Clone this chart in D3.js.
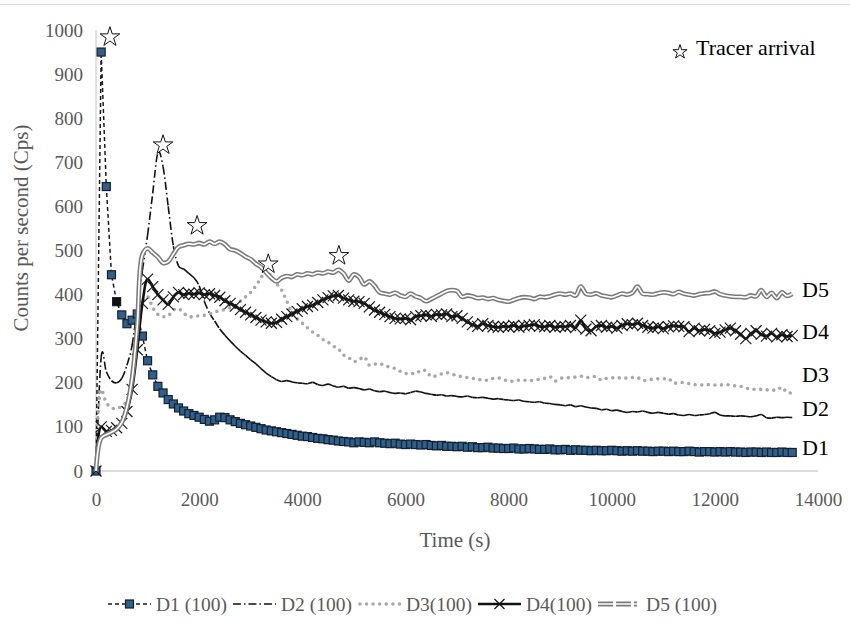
<!DOCTYPE html>
<html>
<head>
<meta charset="utf-8">
<script src="https://cdn.jsdelivr.net/npm/d3@7/dist/d3.min.js"></script>
<style>
    body { margin: 0; background: #fff; }
    text { font-family: "Liberation Serif", "Times New Roman", serif; }
</style>
</head>
<body>
<svg id="chart" width="850" height="639"></svg>
<script>
// sample times (s)
var times = [
    0, 100, 200, 300, 400, 500, 600, 700, 800, 900,
    1000, 1100, 1200, 1300, 1400, 1500, 1600, 1700, 1800, 1900,
    2000, 2100, 2200, 2300, 2400, 2500, 2600, 2700, 2800, 2900,
    3000, 3100, 3200, 3300, 3400, 3500, 3600, 3700, 3800, 3900,
    4000, 4100, 4200, 4300, 4400, 4500, 4600, 4700, 4800, 4900,
    5000, 5100, 5200, 5300, 5400, 5500, 5600, 5700, 5800, 5900,
    6000, 6100, 6200, 6300, 6400, 6500, 6600, 6700, 6800, 6900,
    7000, 7100, 7200, 7300, 7400, 7500, 7600, 7700, 7800, 7900,
    8000, 8100, 8200, 8300, 8400, 8500, 8600, 8700, 8800, 8900,
    9000, 9100, 9200, 9300, 9400, 9500, 9600, 9700, 9800, 9900,
    10000, 10100, 10200, 10300, 10400, 10500, 10600, 10700, 10800, 10900,
    11000, 11100, 11200, 11300, 11400, 11500, 11600, 11700, 11800, 11900,
    12000, 12100, 12200, 12300, 12400, 12500, 12600, 12700, 12800, 12900,
    13000, 13100, 13200, 13300, 13400, 13500
];

var d1 = [
    0, 950, 645, 445, 384, 354, 334, 342, 356, 306,
    250, 218, 192, 177, 162, 152, 143, 136, 130, 126,
    122, 117, 113, 116, 122, 121, 116, 112, 108, 105,
    102, 99, 96, 93, 91, 89, 87, 85, 83, 81,
    79, 78, 76, 74, 73, 71, 70, 68, 67, 66,
    64, 66, 65, 64, 66, 64, 63, 62, 63, 61,
    60, 61, 60, 59, 60, 58, 57, 58, 56, 56,
    55, 56, 54, 55, 53, 53, 54, 52, 52, 51,
    51, 52, 50, 50, 51, 50, 49, 49, 50, 48,
    48, 49, 47, 48, 47, 47, 46, 47, 46, 46,
    47, 46, 45, 46, 45, 46, 45, 45, 44, 45,
    45, 44, 45, 44, 44, 45, 44, 43, 44, 44,
    43, 44, 43, 44, 43, 43, 42, 43, 43, 42,
    43, 42, 42, 43, 42, 42
];

var d2 = [
    0, 258, 225, 205, 200, 210, 240, 285, 370, 455,
    535, 630, 722, 690, 600, 510, 465, 458, 448, 438,
    420, 385, 358, 340, 322, 308, 295, 283, 272, 262,
    252, 243, 232, 222, 214, 207, 203, 205, 202, 200,
    199, 198, 201, 196, 194, 197, 193, 190, 192, 188,
    189, 187, 184, 186, 182, 180, 181, 178, 176, 177,
    175, 178, 181, 179, 176, 174, 172, 173, 170, 171,
    169, 168, 170, 167, 166, 167, 165, 163, 164, 162,
    161, 160, 161, 158, 157, 156, 157, 154, 153, 151,
    150, 148, 150, 146, 148, 145, 143, 142, 139, 140,
    137, 138, 135, 133, 135, 134, 136, 133, 131, 133,
    131, 129, 130, 127, 126, 128, 126, 127, 128, 130,
    133, 127, 125, 125, 124, 125, 124, 123, 125, 128,
    121, 120, 122, 121, 122, 121
];

var d3s = [
    0, 185, 155, 143, 142, 147, 160, 210, 300, 385,
    395, 370, 355, 350, 352, 365, 368, 358, 350, 350,
    352, 353, 356, 360, 364, 366, 370, 374, 385, 395,
    405, 420, 438, 455, 440, 425, 410, 385, 360, 345,
    335, 325, 315, 308, 298, 292, 283, 277, 263, 257,
    248, 252, 259, 240, 242, 244, 238, 236, 232, 226,
    221, 222, 220, 229, 227, 214, 216, 220, 223, 220,
    216, 214, 212, 210, 208, 206, 206, 210, 211, 208,
    203, 204, 206, 206, 205, 206, 208, 210, 214, 204,
    210, 211, 212, 213, 215, 212, 213, 214, 206, 210,
    211, 212, 210, 211, 212, 212, 205, 207, 208, 209,
    209, 210, 199, 201, 200, 198, 196, 195, 195, 196,
    195, 195, 196, 195, 193, 192, 188, 186, 185, 185,
    184, 184, 183, 190, 178, 177
];

var d4 = [
    0, 100, 90, 92, 98, 108, 135, 185, 275, 380,
    435, 418, 400, 388, 378, 395, 405, 400, 403, 401,
    404, 400, 402, 398, 394, 386, 380, 374, 366, 360,
    354, 348, 342, 338, 335, 337, 344, 350, 356, 362,
    368, 373, 376, 382, 388, 393, 397, 398, 392, 388,
    385, 384, 380, 372, 365, 360, 355, 350, 346, 345,
    346, 343, 350, 352, 354, 351, 355, 354, 356, 350,
    352, 346, 338, 332, 328, 334, 330, 327, 326, 328,
    327, 330, 326, 329, 330, 332, 328, 327, 330, 326,
    328, 327, 330, 325, 342, 322, 318, 328, 330, 326,
    328, 324, 330, 334, 332, 335, 330, 326, 324, 327,
    323, 327, 329, 328, 327, 316, 324, 318, 321, 318,
    312, 315, 320, 324, 318, 310, 300, 312, 318, 310,
    306, 312, 304, 309, 305, 307
];

var d5 = [
    0, 75, 82, 88, 95, 110, 145, 210, 330, 490,
    505, 495, 485, 472, 475, 492, 508, 512, 515, 514,
    517, 514, 520, 515, 520, 514, 503, 500, 494, 486,
    480, 470, 462, 450, 438, 430, 438, 442, 440, 446,
    444, 448, 446, 450, 448, 452, 450, 456, 448, 432,
    446, 440, 423, 430, 420, 405, 402, 400, 404, 398,
    395, 402, 396, 392, 385, 390, 396, 402, 408, 410,
    408, 395, 398, 396, 392, 393, 390, 392, 388, 386,
    384, 388, 392, 394, 393, 390, 395, 394, 396, 400,
    402, 400, 402, 398, 418, 402, 400, 403, 398, 396,
    394, 398, 402, 400, 404, 418, 402, 401, 400, 403,
    405, 404, 401, 406, 402, 400, 398, 401, 403, 404,
    407, 401, 398, 396, 395, 395, 394, 398, 396, 410,
    395, 404, 392, 405, 397, 402
];

var xTicks = [0, 2000, 4000, 6000, 8000, 10000, 12000, 14000];
var yTicks = [0, 100, 200, 300, 400, 500, 600, 700, 800, 900, 1000];

// tracer arrival stars (time, value of star centre)
var starTimes = [270, 1300, 1960, 3340, 4710];
var starValues = [984, 739, 556, 469, 488];

// end-of-line labels
var endNames = ["D5", "D4", "D3", "D2", "D1"];
var endValues = [412, 316, 219, 143, 54];

var legendNames = ["D1 (100)", "D2 (100)", "D3(100)", "D4(100)", "D5 (100)"];

d3.select(window).on('load', init);

function init() {
    var svg = d3.select('#chart');
    var W = 850, H = 639;

    var x = d3.scaleLinear().domain([0, 14000]).range([96, 818]);
    var y = d3.scaleLinear().domain([0, 1000]).range([471, 30]);

    var pts = function(vals) {
        return times.map(function(t, i) { return [t, vals[i]]; });
    };
    var line = d3.line()
        .x(function(d) { return x(d[0]); })
        .y(function(d) { return y(d[1]); });
    var smooth = d3.line()
        .curve(d3.curveCatmullRom.alpha(0.5))
        .x(function(d) { return x(d[0]); })
        .y(function(d) { return y(d[1]); });

    svg.append('rect').attr('width', W).attr('height', H).attr('fill', '#fff');
    // top border
    svg.append('line')
        .attr('x1', 0).attr('x2', W).attr('y1', 4.5).attr('y2', 4.5)
        .style('stroke', '#d9d9d9').style('stroke-width', 1);

    // axes lines
    svg.append('line')
        .attr('x1', x(0)).attr('x2', x(14000)).attr('y1', y(0)).attr('y2', y(0))
        .style('stroke', '#d0d0d0').style('stroke-width', 1.3);
    svg.append('line')
        .attr('x1', x(0)).attr('x2', x(0)).attr('y1', y(0)).attr('y2', y(1000))
        .style('stroke', '#d0d0d0').style('stroke-width', 1.3);

    // tick labels
    var xAxis = d3.axisBottom(x).tickValues(xTicks).tickSize(0).tickPadding(22)
        .tickFormat(d3.format('d'));
    var gx = svg.append('g').attr('transform', 'translate(0,' + y(0) + ')').call(xAxis);
    var yAxis = d3.axisLeft(y).tickValues(yTicks).tickSize(0).tickPadding(13)
        .tickFormat(d3.format('d'));
    var gy = svg.append('g').attr('transform', 'translate(' + x(0) + ',0)').call(yAxis);
    [gx, gy].forEach(function(g) {
        g.select('.domain').remove();
        g.selectAll('text')
            .style('font-family', '"Liberation Serif", serif')
            .style('font-size', '19px')
            .style('fill', '#595959');
    });

    // axis titles
    svg.append('text')
        .attr('x', 455).attr('y', 547)
        .attr('text-anchor', 'middle')
        .style('font-size', '21px').style('fill', '#595959')
        .text('Time (s)');
    svg.append('text')
        .attr('transform', 'translate(28,228) rotate(-90)')
        .attr('text-anchor', 'middle')
        .style('font-size', '21px').style('fill', '#595959')
        .text('Counts per second (Cps)');

    // D1 : dashed line with square markers
    svg.append('path')
        .datum(pts(d1))
        .attr('d', line)
        .style('fill', 'none').style('stroke', '#1a1a1a')
        .style('stroke-width', 1.5).style('stroke-dasharray', '4,3');
    svg.selectAll('.m1')
        .data(pts(d1))
        .enter()
        .append('rect')
        .attr('class', 'm1')
        .attr('x', function(d) { return x(d[0]) - 4; })
        .attr('y', function(d) { return y(d[1]) - 4; })
        .attr('width', 8).attr('height', 8)
        .style('fill', function(d, i) { return i == 4 ? '#111' : '#2f5f8c'; })
        .style('stroke', '#15202c').style('stroke-width', 1.2);

    // D2 : dash-dot, smoothed, the pattern restarts on every segment
    var p2 = pts(d2).map(function(d) { return [x(d[0]), y(d[1])]; });
    var segs2 = d3.range(p2.length - 1).map(function(i) {
        var p0 = p2[Math.max(i - 1, 0)], p1 = p2[i], q = p2[i + 1],
            p3 = p2[Math.min(i + 2, p2.length - 1)];
        var c1 = [p1[0] + (q[0] - p0[0]) / 6, p1[1] + (q[1] - p0[1]) / 6];
        var c2 = [q[0] - (p3[0] - p1[0]) / 6, q[1] - (p3[1] - p1[1]) / 6];
        return 'M' + p1 + 'C' + c1 + ' ' + c2 + ' ' + q;
    });
    svg.selectAll('.s2')
        .data(segs2)
        .enter()
        .append('path')
        .attr('class', 's2')
        .attr('d', function(d) { return d; })
        .style('fill', 'none')
        .style('stroke', '#111').style('stroke-width', 1.6)
        .style('stroke-dasharray', '8,3,1.5,3');

    // D3 : gray dots
    svg.append('path')
        .datum(pts(d3s))
        .attr('d', smooth)
        .style('fill', 'none').style('stroke', '#a8a8a8')
        .style('stroke-width', 3.6).style('stroke-linecap', 'round')
        .style('stroke-dasharray', '0,6.6');

    // D4 : solid black with x markers
    svg.append('path')
        .datum(pts(d4))
        .attr('d', smooth)
        .style('fill', 'none').style('stroke', '#111').style('stroke-width', 2.6);
    svg.selectAll('.m4')
        .data(pts(d4))
        .enter()
        .append('path')
        .attr('class', 'm4')
        .attr('transform', function(d) { return 'translate(' + x(d[0]) + ',' + y(d[1]) + ')'; })
        .attr('d', 'M-5.5,-5.5L5.5,5.5M-5.5,5.5L5.5,-5.5')
        .style('stroke', '#1a1a1a').style('stroke-width', 1.2);

    // D5 : double gray line
    svg.append('path')
        .datum(pts(d5))
        .attr('d', smooth)
        .style('fill', 'none').style('stroke', '#7a7a7a').style('stroke-width', 4.8);
    svg.append('path')
        .datum(pts(d5))
        .attr('d', smooth)
        .style('fill', 'none').style('stroke', '#fff').style('stroke-width', 1.7);

    // stars
    var star = d3.symbol().type(d3.symbolStar);
    svg.selectAll('.star')
        .data(starTimes)
        .enter()
        .append('path')
        .attr('class', 'star')
        .attr('transform', function(d, i) {
            return 'translate(' + x(d) + ',' + y(starValues[i]) + ')';
        })
        .attr('d', star.size(120)())
        .style('fill', '#fff').style('stroke', '#111').style('stroke-width', 1);

    // Tracer arrival note
    svg.append('path')
        .attr('transform', 'translate(680,52)')
        .attr('d', d3.symbol().type(d3.symbolStar).size(62)())
        .style('fill', '#fff').style('stroke', '#111').style('stroke-width', 1);
    svg.append('text')
        .attr('x', 696).attr('y', 55)
        .style('font-size', '22px').style('fill', '#000')
        .text('Tracer arrival');

    // end labels
    svg.selectAll('.endlab')
        .data(endNames)
        .enter()
        .append('text')
        .attr('class', 'endlab')
        .attr('x', 802)
        .attr('y', function(d, i) { return y(endValues[i]); })
        .attr('dy', '0.35em')
        .style('font-size', '22px').style('fill', '#000')
        .text(function(d) { return d; });

    // legend
    var lg = svg.append('g');
    var lx = 108, ly = 604, sw = 43;
    legendNames.forEach(function(name, i) {
        var s = lg.append('g').attr('transform', 'translate(' + lx + ',' + ly + ')');
        if (i == 0) {
            s.append('line').attr('x1', 0).attr('x2', sw)
                .style('stroke', '#1a1a1a').style('stroke-width', 1.5).style('stroke-dasharray', '4,3');
            s.append('rect').attr('x', sw / 2 - 4).attr('y', -4).attr('width', 8).attr('height', 8)
                .style('fill', '#2f5f8c').style('stroke', '#15202c').style('stroke-width', 1.2);
        } else if (i == 1) {
            s.append('line').attr('x1', 0).attr('x2', sw)
                .style('stroke', '#111').style('stroke-width', 1.6).style('stroke-dasharray', '8,3,1.5,3');
        } else if (i == 2) {
            s.append('line').attr('x1', 2).attr('x2', sw)
                .style('stroke', '#a8a8a8').style('stroke-width', 3.6)
                .style('stroke-linecap', 'round').style('stroke-dasharray', '0,6.6');
        } else if (i == 3) {
            s.append('line').attr('x1', 0).attr('x2', sw)
                .style('stroke', '#111').style('stroke-width', 2.6);
            s.append('path').attr('transform', 'translate(' + sw / 2 + ',0)')
                .attr('d', 'M-5,-5L5,5M-5,5L5,-5')
                .style('stroke', '#111').style('stroke-width', 1.2);
        } else {
            s.append('line').attr('x1', 0).attr('x2', sw)
                .style('stroke', '#7a7a7a').style('stroke-width', 4.8).style('stroke-dasharray', '15,3,15,3,3,30');
            s.append('line').attr('x1', 0).attr('x2', sw)
                .style('stroke', '#fff').style('stroke-width', 1.7);
        }
        var t = lg.append('text')
            .attr('x', lx + sw + 5).attr('y', ly).attr('dy', '0.35em')
            .style('font-size', '19.5px').style('fill', '#595959')
            .text(name);
        lx = lx + sw + 5 + t.node().getComputedTextLength() + 6;
    });
}
</script>
</body>
</html>
